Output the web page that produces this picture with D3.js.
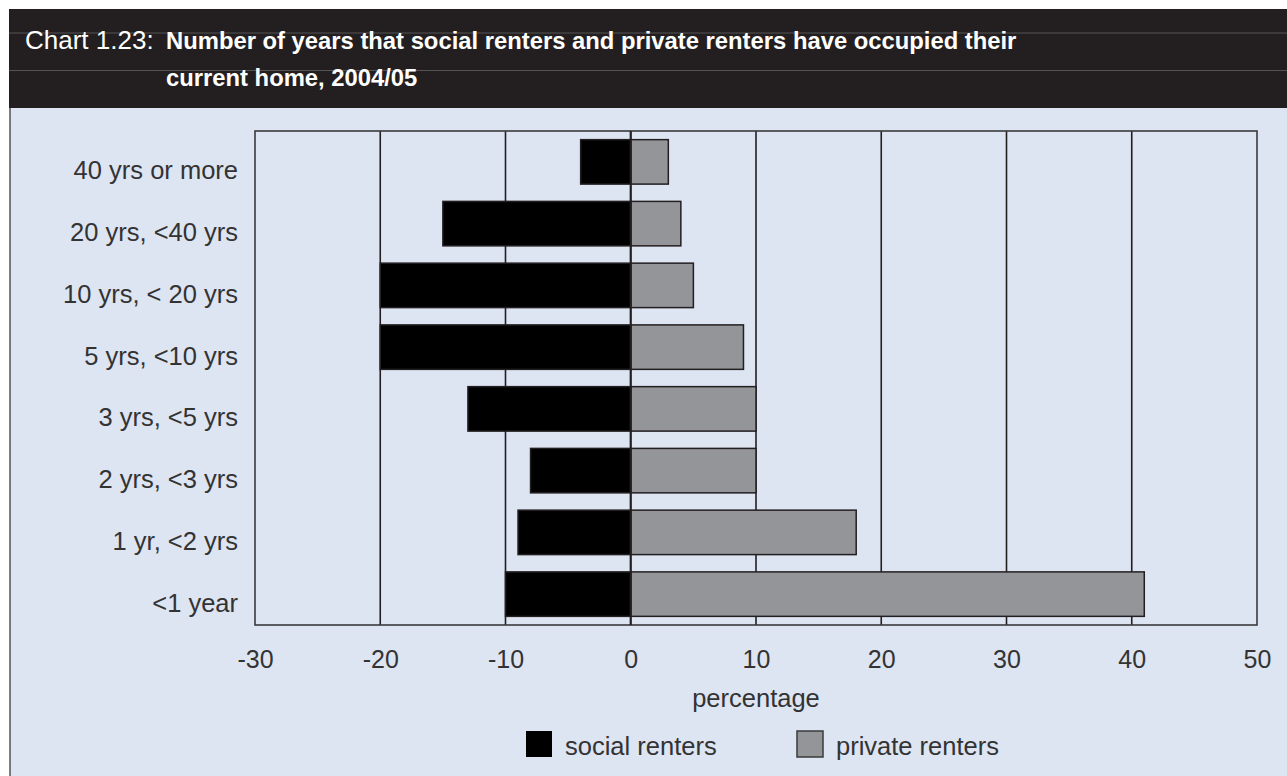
<!DOCTYPE html>
<html>
<head>
<meta charset="utf-8">
<script src="https://cdn.jsdelivr.net/npm/d3@7"></script>
<style>
  html, body { margin: 0; padding: 0; background: #ffffff; }
  svg { display: block; }
  text { font-family: "Liberation Sans", Arial, Helvetica, sans-serif; }
</style>
</head>
<body>
<svg id="chart" width="1287" height="776"></svg>
<script>
// Length of occupancy bands, top to bottom
const categories = [
  "40 yrs or more",
  "20 yrs, <40 yrs",
  "10 yrs, < 20 yrs",
  "5 yrs, <10 yrs",
  "3 yrs, <5 yrs",
  "2 yrs, <3 yrs",
  "1 yr, <2 yrs",
  "<1 year"
];
// Social renters are plotted to the left of zero (negative values)
const socialRenters = [-4, -15, -20, -20, -13, -8, -9, -10];
const privateRenters = [3, 4, 5, 9, 10, 10, 18, 41];
const xTicks = [-30, -20, -10, 0, 10, 20, 30, 40, 50];
const seriesNames = ["social renters", "private renters"];

const titlePrefix = "Chart 1.23:";
const titleLines = [
  "Number of years that social renters and private renters have occupied their",
  "current home, 2004/05"
];
const xAxisTitle = "percentage";

const W = 1287, H = 776;
const svg = d3.select("#chart");

const colors = {
  header: "#231f20",
  panel: "#dde4f2",
  ink: "#231f20",
  text: "#333333",
  social: "#000000",
  private: "#939598"
};

// Header band
svg.append("rect").attr("x", 9).attr("y", 9).attr("width", W - 9).attr("height", 99)
  .attr("fill", colors.header);
[33, 70.5].forEach(y => {
  svg.append("line").attr("x1", 9).attr("x2", W).attr("y1", y).attr("y2", y)
    .attr("stroke", "#6a6a6a").attr("stroke-width", 1).attr("opacity", 0.7);
});
svg.append("text").attr("x", 25).attr("y", 49)
  .attr("fill", "#ffffff").attr("font-size", 26).attr("font-weight", 300)
  .text(titlePrefix);
titleLines.forEach((t, i) => {
  svg.append("text").attr("x", 166).attr("y", 49 + i * 37)
    .attr("fill", "#ffffff").attr("font-size", 23.8).attr("font-weight", "bold")
    .text(t);
});

// Chart panel
svg.append("rect").attr("x", 10).attr("y", 108).attr("width", W - 10).attr("height", H - 108)
  .attr("fill", colors.panel);
svg.append("line").attr("x1", 10).attr("x2", 10).attr("y1", 108).attr("y2", H)
  .attr("stroke", "#555555").attr("stroke-width", 1.5);

// Plot area
const plot = { left: 255, right: 1257, top: 131, bottom: 625 };

const x = d3.scaleLinear().domain([-30, 50]).range([plot.left, plot.right]);
const y = d3.scaleBand().domain(categories).range([plot.top, plot.bottom])
  .paddingInner(0.28).paddingOuter(0.14);

// Vertical gridlines
svg.append("g").selectAll("line").data(xTicks.filter(v => v !== 0 && v !== -30 && v !== 50))
  .join("line")
  .attr("x1", d => x(d)).attr("x2", d => x(d))
  .attr("y1", plot.top).attr("y2", plot.bottom)
  .attr("stroke", colors.ink).attr("stroke-width", 1.6);

// Plot frame
svg.append("rect")
  .attr("x", plot.left).attr("y", plot.top)
  .attr("width", plot.right - plot.left).attr("height", plot.bottom - plot.top)
  .attr("fill", "none").attr("stroke", "#3a3a3a").attr("stroke-width", 1.6);

// Bars
const bars = svg.append("g");
bars.selectAll("rect.social").data(categories.map((c, i) => ({ c, v: socialRenters[i] })))
  .join("rect").attr("class", "social")
  .attr("x", d => x(Math.min(0, d.v)))
  .attr("width", d => Math.abs(x(d.v) - x(0)))
  .attr("y", d => y(d.c)).attr("height", y.bandwidth())
  .attr("fill", colors.social).attr("stroke", colors.ink).attr("stroke-width", 1.5);
bars.selectAll("rect.private").data(categories.map((c, i) => ({ c, v: privateRenters[i] })))
  .join("rect").attr("class", "private")
  .attr("x", d => x(Math.min(0, d.v)))
  .attr("width", d => Math.abs(x(d.v) - x(0)))
  .attr("y", d => y(d.c)).attr("height", y.bandwidth())
  .attr("fill", colors.private).attr("stroke", colors.ink).attr("stroke-width", 1.5);

// Zero line on top of bars
svg.append("line").attr("x1", x(0)).attr("x2", x(0))
  .attr("y1", plot.top).attr("y2", plot.bottom)
  .attr("stroke", colors.ink).attr("stroke-width", 2.2);

// Category axis labels (sit slightly below each bar's centre)
const yAxis = d3.axisLeft(y).tickSize(0).tickPadding(0);
const gy = svg.append("g").attr("transform", `translate(${plot.left - 17},0)`).call(yAxis);
gy.select(".domain").remove();
gy.selectAll("text").attr("font-size", 25.5).attr("fill", colors.text)
  .attr("font-family", "'Liberation Sans', Arial, sans-serif").attr("dy", 17.5);

// Value axis labels
const xAxis = d3.axisBottom(x).tickValues(xTicks).tickSize(0).tickPadding(0)
  .tickFormat(d => String(d));
const gx = svg.append("g").attr("transform", `translate(0,${plot.bottom + 43})`).call(xAxis);
gx.select(".domain").remove();
gx.selectAll("text").attr("font-size", 25).attr("fill", colors.text)
  .attr("font-family", "'Liberation Sans', Arial, sans-serif").attr("dy", 0);

svg.append("text").attr("x", (plot.left + plot.right) / 2).attr("y", 707)
  .attr("text-anchor", "middle").attr("font-size", 25.5).attr("fill", colors.text)
  .text(xAxisTitle);

// Legend
const legendItems = [
  { name: seriesNames[0], fill: colors.social, x: 526 },
  { name: seriesNames[1], fill: colors.private, x: 797 }
];
const lg = svg.append("g").selectAll("g").data(legendItems).join("g")
  .attr("transform", d => `translate(${d.x},731)`);
lg.append("rect").attr("width", 26).attr("height", 26)
  .attr("fill", d => d.fill)
  .attr("stroke", d => d.fill === colors.social ? "none" : "#3a3a3a")
  .attr("stroke-width", 1.5);
lg.append("text").attr("x", 39).attr("y", 24).attr("font-size", 25.5).attr("fill", colors.text)
  .text(d => d.name);
</script>
</body>
</html>
